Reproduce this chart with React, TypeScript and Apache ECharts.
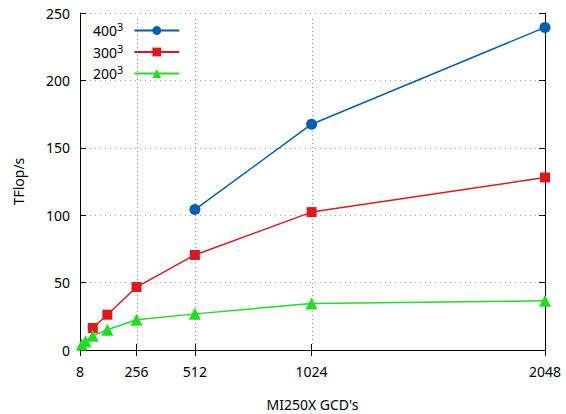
import React, { useEffect, useRef } from "react";
import * as echarts from "echarts";

const xTicks = [8, 256, 512, 1024, 2048];
const xGrid = [256, 512, 1024];
const yRange = [0, 250];
const x400 = [512, 1024, 2048];
const y400 = [104.2, 167.5, 239.3];
const x300 = [64, 128, 256, 512, 1024, 2048];
const y300 = [16.3, 26.2, 46.7, 70.5, 102.3, 128];
const x200 = [16, 32, 64, 128, 256, 512, 1024, 2048];
const y200 = [4, 6.5, 10.5, 15, 22.5, 26.8, 34.5, 36.5];
const names = ["400{s|3}", "300{s|3}", "200{s|3}"];

const FONT = "Noto Sans";
const pair = (xs: number[], ys: number[]) => xs.map((x, i) => [x, ys[i]]);

export default function App() {
  const ref = useRef<HTMLDivElement>(null);
  useEffect(() => {
    const chart = echarts.init(ref.current!, null, { renderer: "svg" });
    const axisLine = { show: true, lineStyle: { color: "#000", width: 1 } };
    const mk = (name: string, data: number[][], color: string, symbol: string, size: number) => ({
      type: "line",
      name,
      data,
      symbol,
      symbolSize: size,
      lineStyle: { color, width: 1.5 },
      itemStyle: { color },
      xAxisIndex: 0,
      yAxisIndex: 0,
      z: 3,
    });
    chart.setOption({
      animation: false,
      textStyle: { fontFamily: FONT },
      grid: { left: 80, right: 21, top: 13, bottom: 64, outerBoundsMode: "none", containLabel: false },
      legend: {
        orient: "vertical",
        left: 88,
        top: 16,
        align: "right",
        itemWidth: 45,
        itemHeight: 11,
        itemGap: 2.5,
        textStyle: {
          fontFamily: FONT,
          fontSize: 14,
          color: "#000",
          lineHeight: 19,
          padding: [0, 6, 0, 0],
          rich: { s: { fontSize: 11, verticalAlign: "top", lineHeight: 11, fontFamily: FONT, color: "#000" } },
        },
        data: names,
      },
      xAxis: [
        {
          type: "value",
          min: 8,
          max: 2048,
          name: "MI250X GCD's",
          nameLocation: "middle",
          nameGap: 47,
          nameTextStyle: { fontFamily: FONT, fontSize: 14, color: "#000" },
          axisLine,
          axisTick: { show: true, inside: true, length: 6, customValues: xTicks, lineStyle: { color: "#000" } },
          axisLabel: {
            customValues: xTicks,
            margin: 14,
            fontFamily: FONT,
            fontSize: 14,
            color: "#000",
            formatter: (v: number) => String(v),
          },
          splitLine: { show: false },
        },
        {
          type: "value",
          position: "top",
          min: 8,
          max: 2048,
          axisLine,
          axisTick: { show: true, inside: true, length: 6, customValues: xTicks, lineStyle: { color: "#000" } },
          axisLabel: { show: false },
          splitLine: { show: false },
        },
      ],
      yAxis: [
        {
          type: "value",
          min: yRange[0],
          max: yRange[1],
          interval: 50,
          name: "TFlop/s",
          nameLocation: "middle",
          nameGap: 55,
          nameTextStyle: { fontFamily: FONT, fontSize: 14, color: "#000" },
          axisLine,
          axisTick: { show: true, inside: true, length: 6, lineStyle: { color: "#000" } },
          axisLabel: { margin: 10, fontFamily: FONT, fontSize: 14, color: "#000" },
          splitLine: { show: true, lineStyle: { color: "#a0a0a0", type: [1, 4], width: 1 } },
        },
        {
          type: "value",
          position: "right",
          min: yRange[0],
          max: yRange[1],
          interval: 50,
          axisLine,
          axisTick: { show: true, inside: true, length: 6, lineStyle: { color: "#000" } },
          axisLabel: { show: false },
          splitLine: { show: false },
        },
      ],
      series: [
        mk(names[0], pair(x400, y400), "#0060ad", "circle", 11),
        mk(names[1], pair(x300, y300), "#dd181f", "rect", 10),
        mk(names[2], pair(x200, y200), "#22dd22", "triangle", 12),
      ],
    });
    // vertical grid lines at xGrid values, positioned with the chart's own scales
    const lines = xGrid.map((x) => {
      const p0 = chart.convertToPixel({ gridIndex: 0 }, [x, yRange[0]]) as number[];
      const p1 = chart.convertToPixel({ gridIndex: 0 }, [x, yRange[1]]) as number[];
      const px = Math.round(p0[0]) + 0.5;
      return {
        type: "line",
        silent: true,
        z: 1,
        shape: { x1: px, y1: p0[1] - 6, x2: px, y2: p1[1] + 6 },
        style: { stroke: "#909090", lineWidth: 1, lineDash: [1, 3] },
      };
    });
    chart.setOption({ graphic: { elements: lines } });
    return () => chart.dispose();
  }, []);
  return <div ref={ref} style={{ width: 566, height: 414, position: "absolute", left: 0, top: 0 }} />;
}
